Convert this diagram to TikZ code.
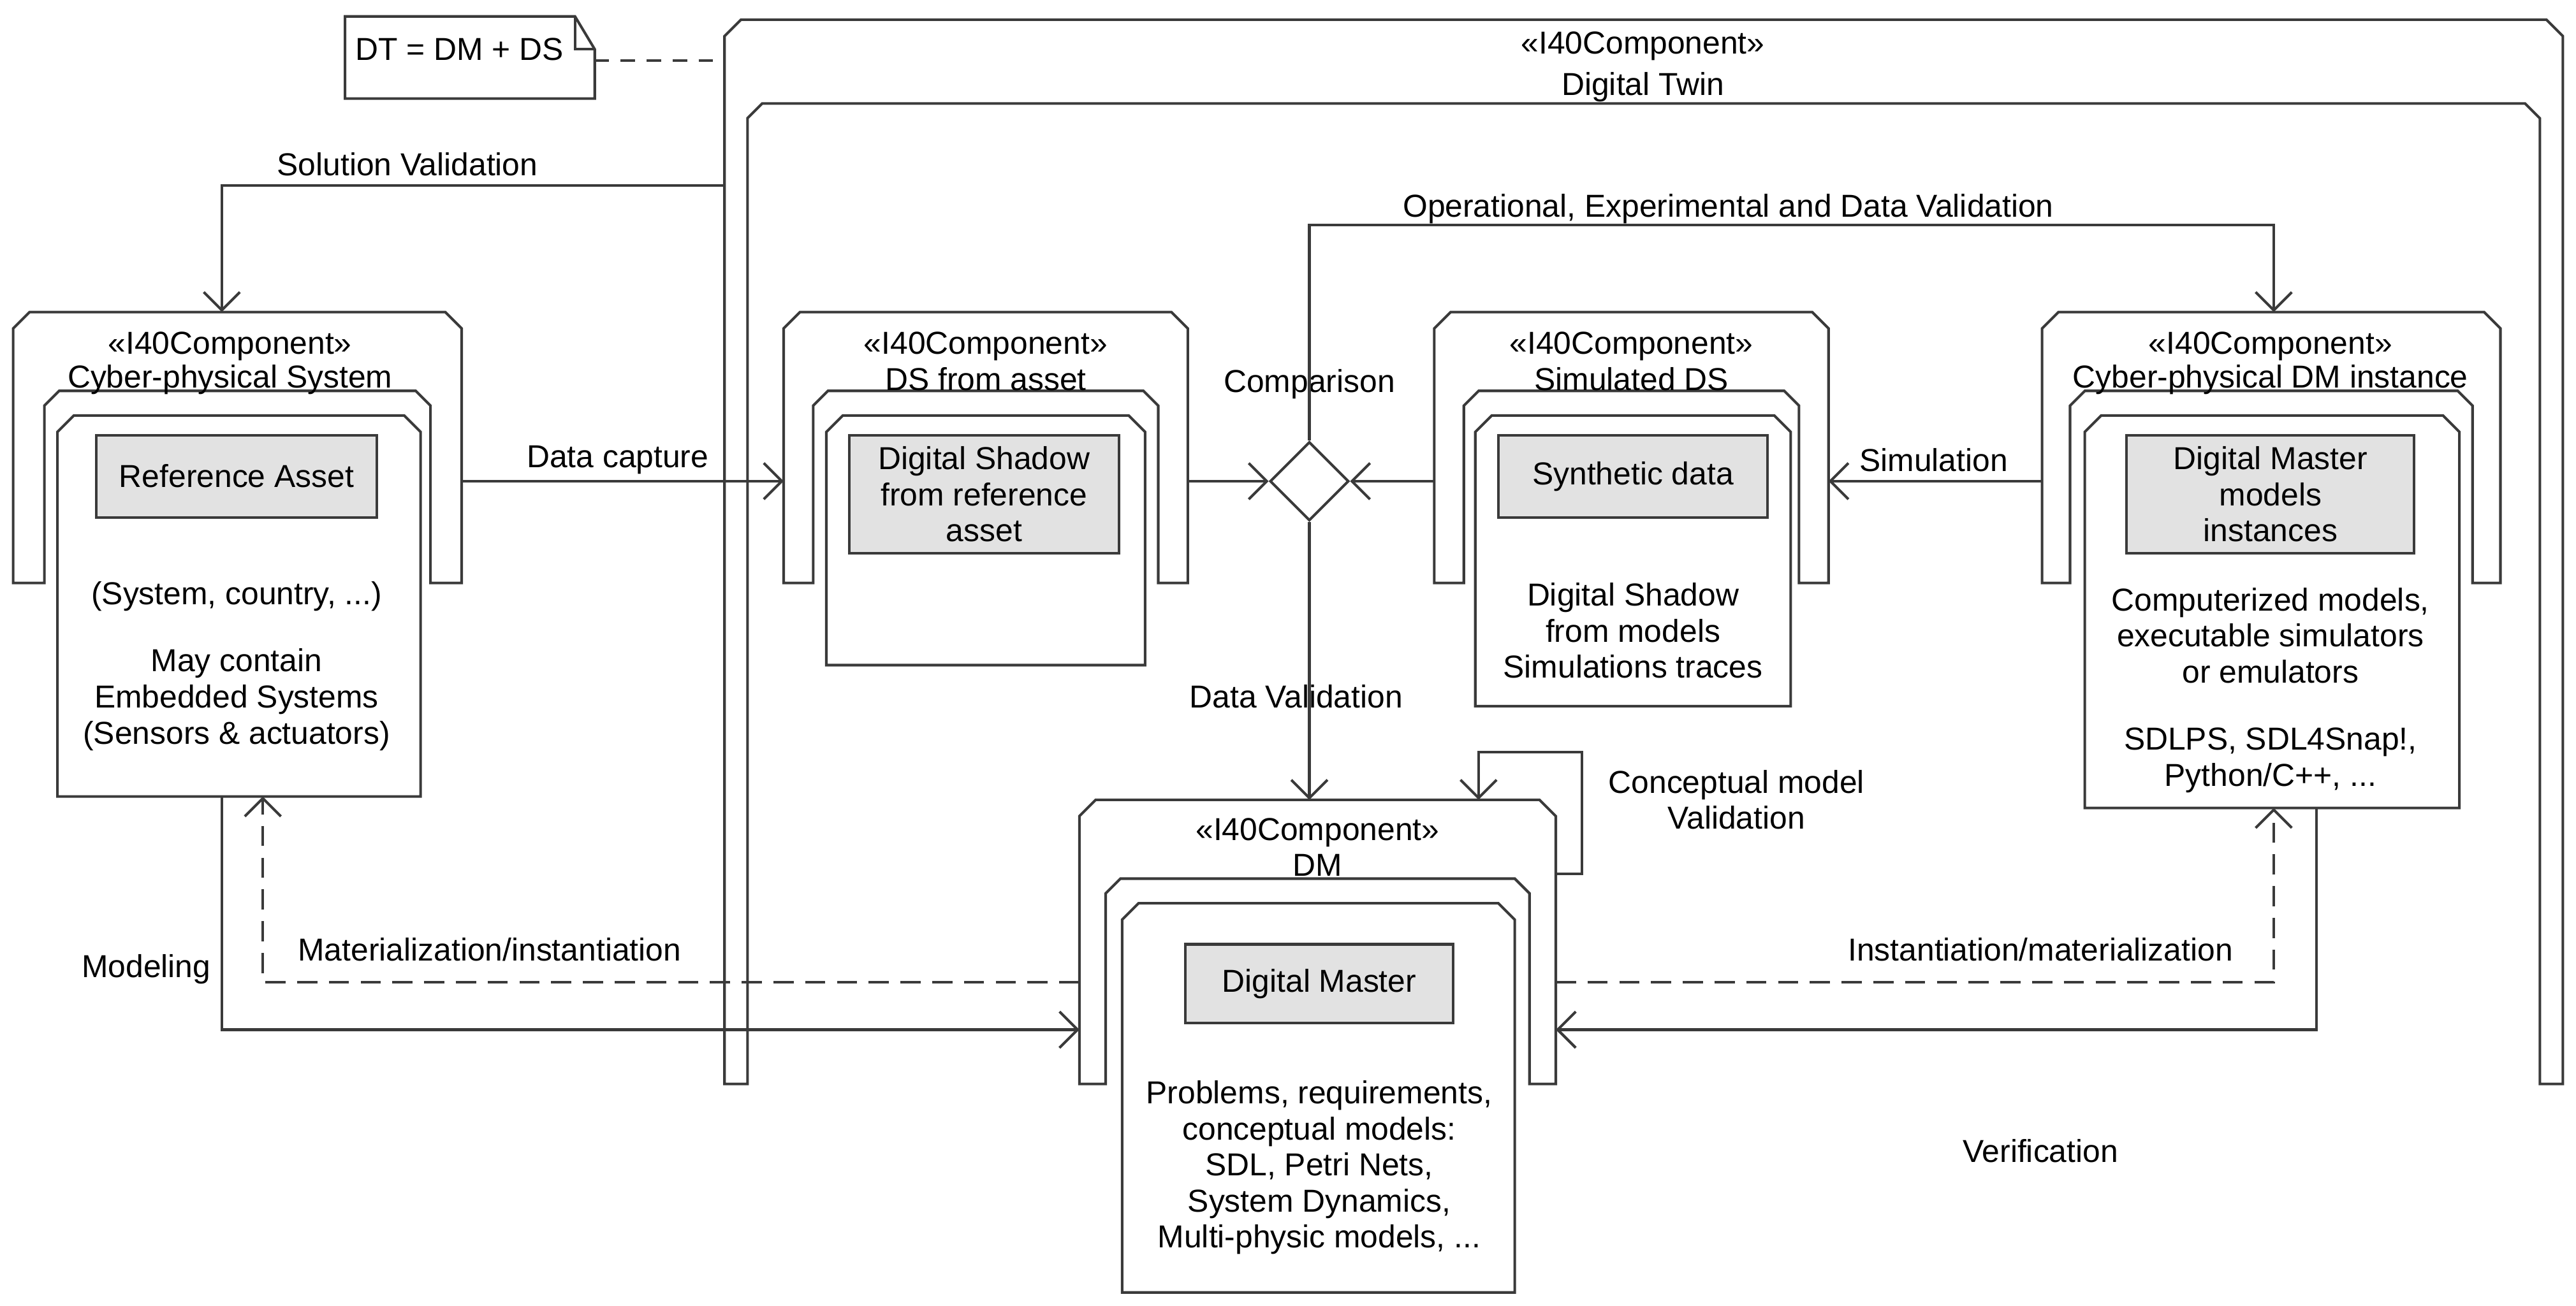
\documentclass[tikz,border=0pt]{standalone}
\usepackage{fontspec}
\setmainfont{Liberation Sans}
\usetikzlibrary{arrows.meta,shapes.geometric}
\definecolor{ln}{HTML}{3A3A3A}
\definecolor{gbox}{HTML}{E2E2E2}
\tikzset{
  line/.style={draw=ln, line width=0.9pt},
  txt/.style={font=\fontsize{11}{12.5}\selectfont, align=center, inner sep=0},
  gray box/.style={line, fill=gbox, txt, inner sep=0},
  conn/.style={line, -{Straight Barb[length=2.2mm,width=4.4mm]}},
  dconn/.style={conn, dash pattern=on 7pt off 4pt},
  plain/.style={line},
}
\newcommand\Ucomp[6]{% L R T B legwidth innertop
  \draw[line,fill=white] (#1,#4) -- (#1,{#3+10}) -- ({#1+10},#3) -- ({#2-10},#3) -- (#2,{#3+10}) -- (#2,#4)
   -- ({#2-#5},#4) -- ({#2-#5},{#6+9}) -- ({#2-#5-9},#6) -- ({#1+#5+9},#6) -- ({#1+#5},{#6+9}) -- ({#1+#5},#4) -- cycle;}
\newcommand\Ibox[4]{% L R T B
  \draw[line,fill=white] (#1,#4) -- (#1,{#3+10}) -- ({#1+10},#3) -- ({#2-10},#3) -- (#2,{#3+10}) -- (#2,#4) -- cycle;}
\begin{document}
\begin{tikzpicture}[x=0.02cm,y=-0.02cm]
\useasboundingbox (0,0) rectangle (1568,795);
\fill[white] (0,0) rectangle (1568,795);

% Digital Twin
\Ucomp{441}{1560}{12}{660}{14}{63}
\node[txt] (dtst) at (1000,28) {«I40Component»};
\node[txt] (dtname) at (1000,53) {Digital Twin};
% note
\draw[line,fill=white] (210,10) -- (350,10) -- (362,30) -- (362,60) -- (210,60) -- cycle;
\draw[line] (350,10) -- (350,30) -- (362,30);
\node[txt,anchor=west] (note) at (216,30) {DT = DM + DS};
\coordinate (noteR) at (362,37);
\coordinate (dtL) at (441,37);
\draw[line,dash pattern=on 5pt off 4pt] (noteR) -- (dtL);

% CPS
\Ucomp{8}{281}{190}{355}{19}{238}
\node[txt] (cpsst) at (140,211) {«I40Component»};
\node[txt] (cpsname) at (140,231) {Cyber-physical System};
\Ibox{35}{256}{253}{485}
\node[gray box, minimum width=171*0.02cm, minimum height=50*0.02cm] (ra) at (144,290) {Reference Asset};
\node[txt] (cpst1) at (144,363) {(System, country, ...)};
\node[txt] (cpst2) at (144,426) {May contain\\Embedded Systems\\(Sensors \& actuators)};

% DS from asset
\Ucomp{477}{723}{190}{355}{18}{238}
\node[txt] (dsst) at (600,211) {«I40Component»};
\node[txt] (dsname) at (600,231) {DS from asset};
\Ibox{503}{697}{253}{405}
\node[gray box, minimum width=164*0.02cm, minimum height=72*0.02cm] (dsr) at (599,301) {Digital Shadow\\from reference\\asset};

% Simulated DS
\Ucomp{873}{1113}{190}{355}{18}{238}
\node[txt] (sdsst) at (993,211) {«I40Component»};
\node[txt] (sdsname) at (993,231) {Simulated DS};
\Ibox{898}{1090}{253}{430}
\node[gray box, minimum width=164*0.02cm, minimum height=50*0.02cm] (syn) at (994,290) {Synthetic data};
\node[txt] (sdst) at (994,384) {Digital Shadow\\from models\\Simulations traces};

% Cyber-physical DM instance
\Ucomp{1243}{1522}{190}{355}{17}{238}
\node[txt] (dmist) at (1382,211) {«I40Component»};
\node[txt] (dminame) at (1382,231) {Cyber-physical DM instance};
\Ibox{1269}{1497}{253}{492}
\node[gray box, minimum width=175*0.02cm, minimum height=72*0.02cm] (dmm) at (1382,301) {Digital Master\\models\\instances};
\node[txt] (dmit1) at (1382,387) {Computerized models,\\executable simulators\\or emulators};
\node[txt] (dmit2) at (1382,463) {SDLPS, SDL4Snap!,\\Python/C++, ...};

% DM
\Ucomp{657}{947}{487}{660}{16}{535}
\node[txt] (dmst) at (802,507) {«I40Component»};
\node[txt] (dmname) at (802,527) {DM};
\Ibox{683}{922}{550}{787}
\node[gray box, minimum width=163*0.02cm, minimum height=48*0.02cm] (dmas) at (803,599) {Digital Master};
\node[txt] (dmt) at (803,711) {Problems, requirements,\\conceptual models:\\SDL, Petri Nets,\\System Dynamics,\\Multi-physic models, ...};

% diamond
\node[draw=ln, line width=0.9pt, fill=white, diamond, minimum width=48*0.02cm, minimum height=48*0.02cm, inner sep=0] (cmp) at (797,293) {};
\node[txt] (cmpl) at (797,234) {Comparison};

% coordinates
\coordinate (dtSV) at (441,113);
\coordinate (sv1) at (135,113);
\coordinate (cpsTop) at (135,190);
\coordinate (cpsR) at (281,293);
\coordinate (dsL) at (477,293);
\coordinate (dsR) at (723,293);
\coordinate (sdsL) at (873,293);
\coordinate (sdsR) at (1113,293);
\coordinate (dmiL) at (1243,293);
\coordinate (op1) at (797,137);
\coordinate (op2) at (1384,137);
\coordinate (dmiTop) at (1384,190);
\coordinate (dmTop) at (797,487);
\coordinate (loopA) at (947,532);
\coordinate (loopB) at (963,532);
\coordinate (loopC) at (963,458);
\coordinate (loopD) at (900,458);
\coordinate (loopE) at (900,487);
\coordinate (cpsB1) at (135,485);
\coordinate (mod1) at (135,627);
\coordinate (dmL2) at (657,627);
\coordinate (dmL1) at (657,598);
\coordinate (mat1) at (160,598);
\coordinate (cpsB2) at (160,485);
\coordinate (dmR1) at (947,598);
\coordinate (ins1) at (1384,598);
\coordinate (dmiB1) at (1384,492);
\coordinate (dmiB2) at (1410,492);
\coordinate (ver1) at (1410,627);
\coordinate (dmR2) at (947,627);

\draw[conn] (dtSV) -- (sv1) -- (cpsTop);
\draw[conn] (cpsR) -- (dsL);
\draw[conn] (dsR) -- (cmp.west);
\draw[conn] (sdsL) -- (cmp.east);
\draw[conn] (dmiL) -- (sdsR);
\draw[conn] (cmp.north) -- (op1) -- (op2) -- (dmiTop);
\draw[conn] (cmp.south) -- (dmTop);
\draw[conn] (loopA) -- (loopB) -- (loopC) -- (loopD) -- (loopE);
\draw[conn] (cpsB1) -- (mod1) -- (dmL2);
\draw[dconn] (dmL1) -- (mat1) -- (cpsB2);
\draw[dconn] (dmR1) -- (ins1) -- (dmiB1);
\draw[conn] (dmiB2) -- (ver1) -- (dmR2);

% labels
\node[txt] (lsv) at (248,100) {Solution Validation};
\node[txt] (ldc) at (376,280) {Data capture};
\node[txt] (lsim) at (1177,280) {Simulation};
\node[txt] (lop) at (1052,127) {Operational, Experimental and Data Validation};
\node[txt] (ldv) at (789,424) {Data Validation};
\node[txt] (lcm) at (1057,487) {Conceptual model\\Validation};
\node[txt] (lmod) at (89,590) {Modeling};
\node[txt] (lmat) at (298,578) {Materialization/instantiation};
\node[txt] (lins) at (1242,578) {Instantiation/materialization};
\node[txt] (lver) at (1242,701) {Verification};
\end{tikzpicture}
\end{document}
